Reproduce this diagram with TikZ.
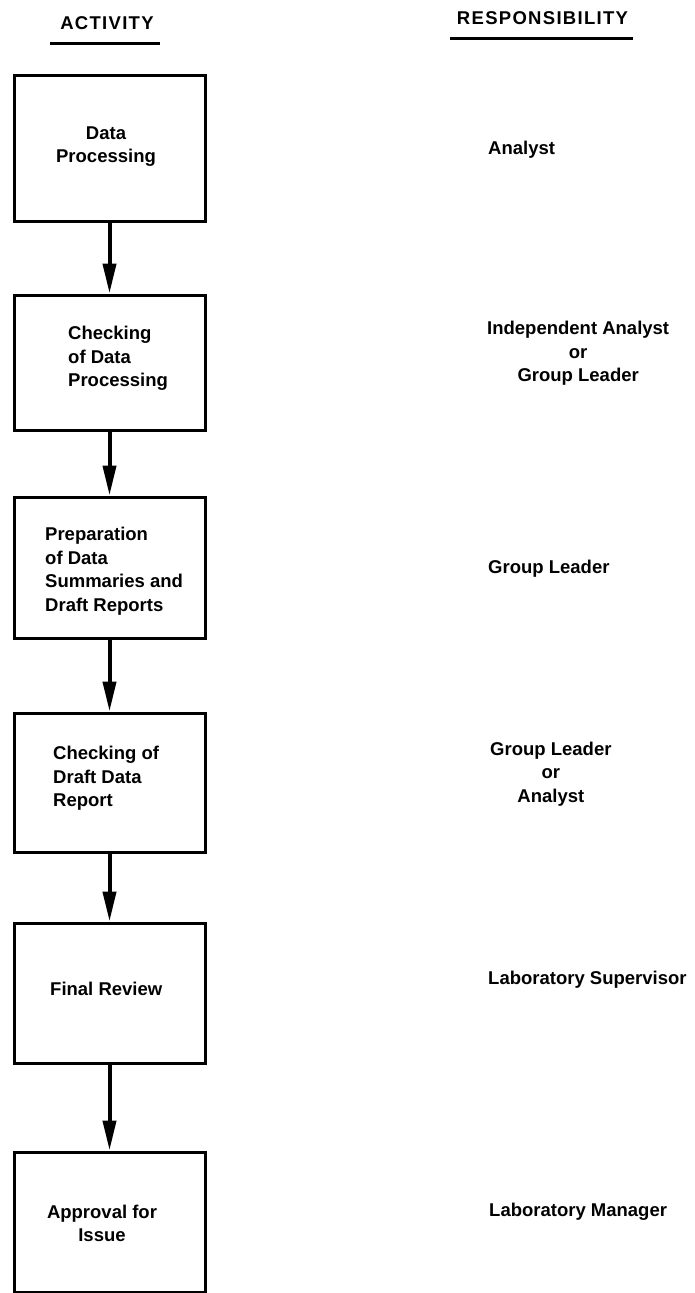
\documentclass[tikz,border=0pt]{standalone}
\usepackage{fontspec}
\setmainfont{Liberation Sans}
\newfontfamily\hdrfont[LetterSpace=7]{Liberation Sans}
\usetikzlibrary{arrows.meta,positioning}
\tikzset{
  actbox/.style={draw,line width=3pt,minimum width=191pt,inner sep=0pt},
  boxtxt/.style={inner sep=0pt,font=\bfseries\fontsize{18.5}{23.5}\selectfont},
  resptxt/.style={boxtxt,anchor=west,align=center},
  hdr/.style={inner sep=0pt,font=\hdrfont\bfseries\fontsize{18.5}{22}\selectfont},
  flow/.style={line width=4pt,-{Triangle[length=30pt,width=13pt]}}
}

\begin{document}
\begin{tikzpicture}[x=1pt,y=-1pt]
\useasboundingbox (0,0) rectangle (695,1293);
\node[hdr] (acthd) at (107,23){ACTIVITY};
\node[hdr] (resphd) at (542.5,18){RESPONSIBILITY};
\draw[line width=3pt] (50,43)--(160,43);
\draw[line width=3pt] (450,38)--(633,38);

\node[actbox,minimum height=146pt] (b1) at (109.5,148){};
\node[actbox,minimum height=135pt] (b2) at (109.5,362.5){};
\node[actbox,minimum height=141pt] (b3) at (109.5,567.5){};
\node[actbox,minimum height=139pt] (b4) at (109.5,782.5){};
\node[actbox,minimum height=140pt] (b5) at (109.5,993){};
\node[actbox,minimum height=140pt] (b6) at (109.5,1222){};

\node[boxtxt,align=center] (t1) at (106,146.5){Data\\Processing};
\node[boxtxt,align=left,anchor=west] (t2) at (68,358.5){Checking\\of Data\\Processing};
\node[boxtxt,align=left,anchor=west] (t3) at (45,571){Preparation\\of Data\\Summaries and\\Draft Reports};
\node[boxtxt,align=left,anchor=west] (t4) at (53,778.5){Checking of\\Draft Data\\Report};
\node[boxtxt,anchor=west] (t5) at (50,989){Final Review};
\node[boxtxt,align=center] (t6) at (102,1223.5){Approval for\\Issue};

\node[resptxt] (r1) at (488,150){Analyst};
\node[resptxt] (r2) at (487,353.5){Independent Analyst\\or\\Group Leader};
\node[resptxt] (r3) at (488,569){Group Leader};
\node[resptxt] (r4) at (490,774){Group Leader\\or\\Analyst};
\node[resptxt] (r5) at (488,980){Laboratory Supervisor};
\node[resptxt] (r6) at (489,1212){Laboratory Manager};

\draw[flow] (b1)--(b2);
\draw[flow] (b2)--(b3);
\draw[flow] (b3)--(b4);
\draw[flow] (b4)--(b5);
\draw[flow] (b5)--(b6);
\end{tikzpicture}
\end{document}
